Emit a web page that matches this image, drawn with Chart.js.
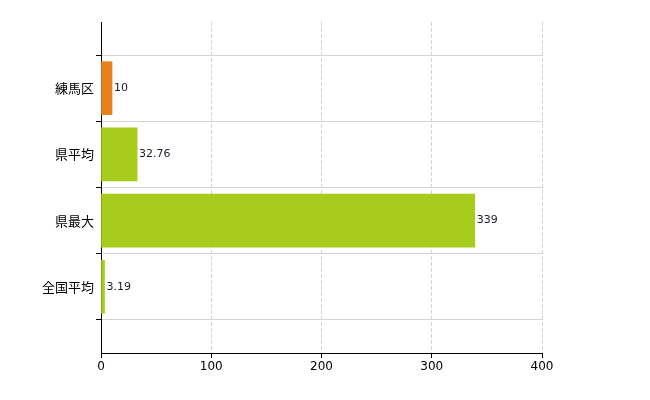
<!DOCTYPE html>
<html>
<head>
<meta charset="utf-8">
<script src="https://cdn.jsdelivr.net/npm/chart.js@4"></script>
<style>
  body { margin: 0; background: #fff; }
  #wrap { width: 650px; height: 400px; }
</style>
</head>
<body>
<div id="wrap"><canvas id="chart"></canvas></div>
<script>
// blank slots at both ends keep the empty band above and below the bars
const categories = ['', '練馬区', '県平均', '県最大', '全国平均', ''];
const values = [null, 10, 32.76, 339, 3.19, null];
const valueLabels = ['', '10', '32.76', '339', '3.19', ''];
const barColors = ['#a8cc1c', '#e8801e', '#a8cc1c', '#a8cc1c', '#a8cc1c', '#a8cc1c'];
const xTicks = [0, 100, 200, 300, 400];

const labelPlugin = {
    id: 'valueLabels',
    afterDatasetsDraw(chart) {
        const ctx = chart.ctx;
        const meta = chart.getDatasetMeta(0);
        ctx.save();
        ctx.font = '11px "DejaVu Sans", sans-serif';
        ctx.fillStyle = '#1a1a2a';
        ctx.textBaseline = 'middle';
        meta.data.forEach((bar, i) => {
            if (values[i] == null) return;
            ctx.fillText(valueLabels[i], bar.x + 2, bar.y);
        });
        ctx.restore();
    }
};

new Chart(document.getElementById('chart'), {
    type: 'bar',
    data: {
        labels: categories,
        datasets: [{
            data: values,
            backgroundColor: barColors,
            barThickness: 53
        }]
    },
    options: {
        indexAxis: 'y',
        responsive: true,
        maintainAspectRatio: false,
        animation: false,
        layout: { padding: { top: 22, right: 108, left: 0, bottom: 0 } },
        plugins: { legend: { display: false }, tooltip: { enabled: false } },
        scales: {
            y: {
                type: 'category',
                offset: false,
                afterFit(axis) { axis.width = 101; },
                border: { color: '#000', width: 1 },
                grid: { color: '#d4d4d4', tickColor: '#000', tickLength: 5 },
                ticks: { color: '#000', font: { size: 13, family: '"Noto Sans CJK JP", sans-serif' }, padding: 2 }
            },
            x: {
                min: 0,
                max: 400,
                afterFit(axis) { axis.height = 47; },
                afterBuildTicks(axis) { axis.ticks = xTicks.map(v => ({ value: v })); },
                border: { color: '#000', width: 1, dash: [4, 2] },
                grid: { color: '#d4d4d4', tickColor: '#000', tickLength: 5 },
                ticks: { color: '#000', font: { size: 12, family: '"DejaVu Sans", sans-serif' }, padding: 2 }
            }
        }
    },
    plugins: [labelPlugin]
});
</script>
</body>
</html>
